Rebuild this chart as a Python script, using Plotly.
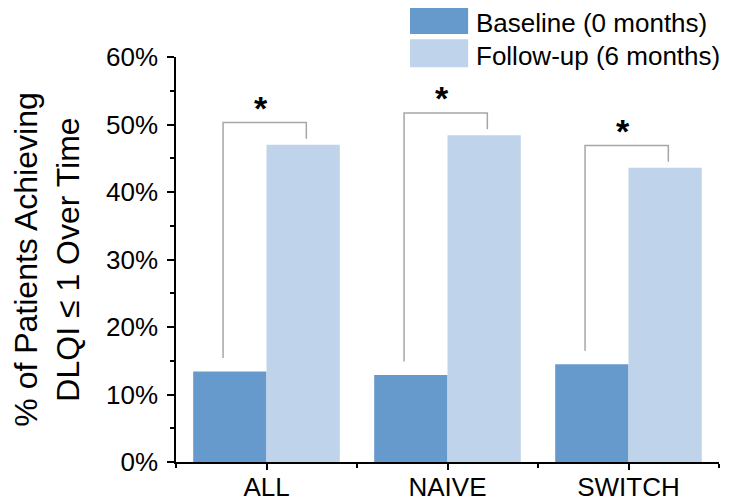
import plotly.graph_objects as go

categories = ["ALL", "NAIVE", "SWITCH"]
baseline = [13.4, 12.9, 14.5]
followup = [47.0, 48.4, 43.6]
series_names = ["Baseline (0 months)", "Follow-up (6 months)"]
y_ticks = [0, 10, 20, 30, 40, 50, 60]
y_labels = [f"{v}%" for v in y_ticks]

blue = "#6699CC"
light = "#BFD4EA"
grey = "#A6A6A6"
font = "Liberation Sans, Arial, sans-serif"

x = list(range(len(categories)))

fig = go.Figure()
fig.add_trace(go.Bar(x=x, y=baseline, name=series_names[0], marker_color=blue,
                     marker_line_width=0, showlegend=False))
fig.add_trace(go.Bar(x=x, y=followup, name=series_names[1], marker_color=light,
                     marker_line_width=0, showlegend=False))

# significance brackets + stars
for i in x:
    top = followup[i] + 3.3
    xl, xr = i - 0.24, i + 0.22
    fig.add_shape(type="path", xref="x", yref="y",
                  path=f"M {xl},{baseline[i] + 2} L {xl},{top} L {xr},{top} L {xr},{followup[i] + 0.9}",
                  line=dict(color=grey, width=1.5))
    fig.add_annotation(x=i - 0.03, y=top + 2.2, text="<b>*</b>", showarrow=False,
                       font=dict(size=34, color="black", family=font), yanchor="middle")

# legend drawn by hand (big swatches)
for k, (name, col) in enumerate(zip(series_names, [blue, light])):
    y1 = 1.126 - k * 0.082
    fig.add_shape(type="rect", xref="paper", yref="paper", x0=0.431, x1=0.538,
                  y0=y1 - 0.069, y1=y1, fillcolor=col, line_width=0)
    fig.add_annotation(xref="paper", yref="paper", x=0.551, y=y1 - 0.042, text=name,
                       xanchor="left", yanchor="middle", showarrow=False, borderpad=0,
                       font=dict(size=26, color="black", family=font))

fig.update_layout(
    width=733, height=503,
    margin=dict(l=168, r=22, t=49, b=49),
    barmode="group", bargap=0.19, bargroupgap=0,
    plot_bgcolor="white", paper_bgcolor="white",
    font=dict(family=font, color="black"),
)
fig.update_xaxes(
    range=[-0.5, len(categories) - 0.5], tickvals=x, ticktext=categories,
    ticks="outside", ticklen=6, tickwidth=1.5, tickcolor="black",
    minor=dict(tickvals=[i + 0.5 for i in range(-1, len(categories))],
               ticks="outside", ticklen=4, tickwidth=1.5, tickcolor="black"),
    showline=True, linecolor="black", linewidth=1.5, automargin=False,
    showgrid=False, zeroline=False, tickfont=dict(size=26), ticklabelstandoff=-5,
)
fig.update_yaxes(
    range=[0, 60], tickvals=y_ticks, ticktext=y_labels,
    ticks="outside", ticklen=7, tickwidth=1.5, tickcolor="black",
    minor=dict(dtick=5, ticks="outside", ticklen=4, tickwidth=1.5, tickcolor="black"),
    showline=True, linecolor="black", linewidth=1.5, automargin=False,
    showgrid=False, zeroline=False, tickfont=dict(size=26), ticklabelstandoff=4,
    title=dict(text="% of Patients Achieving<br>DLQI ≤ 1 Over Time",
               font=dict(size=32), standoff=32),
)

fig.write_html("out.html")
